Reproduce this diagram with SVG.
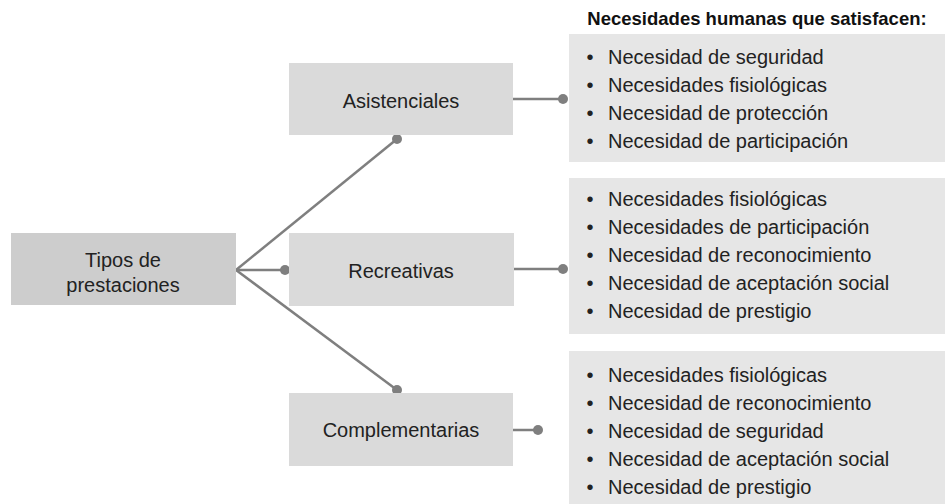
<svg xmlns="http://www.w3.org/2000/svg" width="945" height="504" viewBox="0 0 945 504">
<style>
text{font-family:"Liberation Sans",Arial,sans-serif;fill:#222;}
.node{font-size:20px;text-anchor:middle;}
.item{font-size:20px;}
.bul{font-size:20px;text-anchor:middle;}
.hdr{font-size:18.5px;font-weight:bold;text-anchor:middle;fill:#111;}
.root{fill:#cdcdcd;}
.box{fill:#dadada;}
.list{fill:#e6e6e6;}
.ln{stroke:#7f7f7f;stroke-width:2.5;fill:none;}
.dot{fill:#7f7f7f;}
</style>
<rect width="945" height="504" fill="#fff"/>
<g id="connectors">
<line class="ln" x1="236" y1="270" x2="397" y2="139"/>
<line class="ln" x1="236" y1="270" x2="285" y2="270"/>
<line class="ln" x1="236" y1="270" x2="397" y2="390"/>
<circle class="dot" cx="397" cy="139" r="5"/>
<circle class="dot" cx="285" cy="270" r="5"/>
<circle class="dot" cx="397" cy="390" r="5"/>
<line class="ln" x1="513" y1="99" x2="563" y2="99"/>
<circle class="dot" cx="563" cy="99" r="5"/>
<line class="ln" x1="513" y1="269" x2="563" y2="269"/>
<circle class="dot" cx="563" cy="269" r="5"/>
<line class="ln" x1="513" y1="430" x2="538" y2="430"/>
<circle class="dot" cx="538" cy="430" r="5"/>
</g>
<g id="root">
<rect class="root" x="11" y="233" width="225" height="72"/>
<text class="node" x="123" y="267">Tipos de</text>
<text class="node" x="123" y="292">prestaciones</text>
</g>
<g id="asistenciales">
<rect class="box" x="289" y="63" width="224" height="72"/>
<text class="node" x="401" y="108">Asistenciales</text>
</g>
<g id="recreativas">
<rect class="box" x="289" y="233" width="225" height="73"/>
<text class="node" x="401" y="278">Recreativas</text>
</g>
<g id="complementarias">
<rect class="box" x="289" y="393" width="224" height="73"/>
<text class="node" x="401" y="437">Complementarias</text>
</g>
<g id="header">
<text class="hdr" x="757" y="25">Necesidades humanas que satisfacen:</text>
</g>
<g id="list1">
<rect class="list" x="569" y="34" width="376" height="128"/>
<text class="bul" x="590" y="64">•</text><text class="item" x="608" y="64">Necesidad de seguridad</text>
<text class="bul" x="590" y="92">•</text><text class="item" x="608" y="92">Necesidades fisiológicas</text>
<text class="bul" x="590" y="120">•</text><text class="item" x="608" y="120">Necesidad de protección</text>
<text class="bul" x="590" y="148">•</text><text class="item" x="608" y="148">Necesidad de participación</text>
</g>
<g id="list2">
<rect class="list" x="569" y="178" width="376" height="156"/>
<text class="bul" x="590" y="206">•</text><text class="item" x="608" y="206">Necesidades fisiológicas</text>
<text class="bul" x="590" y="234">•</text><text class="item" x="608" y="234">Necesidades de participación</text>
<text class="bul" x="590" y="262">•</text><text class="item" x="608" y="262">Necesidad de reconocimiento</text>
<text class="bul" x="590" y="290">•</text><text class="item" x="608" y="290">Necesidad de aceptación social</text>
<text class="bul" x="590" y="318">•</text><text class="item" x="608" y="318">Necesidad de prestigio</text>
</g>
<g id="list3">
<rect class="list" x="569" y="351" width="376" height="153"/>
<text class="bul" x="590" y="382">•</text><text class="item" x="608" y="382">Necesidades fisiológicas</text>
<text class="bul" x="590" y="410">•</text><text class="item" x="608" y="410">Necesidad de reconocimiento</text>
<text class="bul" x="590" y="438">•</text><text class="item" x="608" y="438">Necesidad de seguridad</text>
<text class="bul" x="590" y="466">•</text><text class="item" x="608" y="466">Necesidad de aceptación social</text>
<text class="bul" x="590" y="494">•</text><text class="item" x="608" y="494">Necesidad de prestigio</text>
</g>
</svg>
